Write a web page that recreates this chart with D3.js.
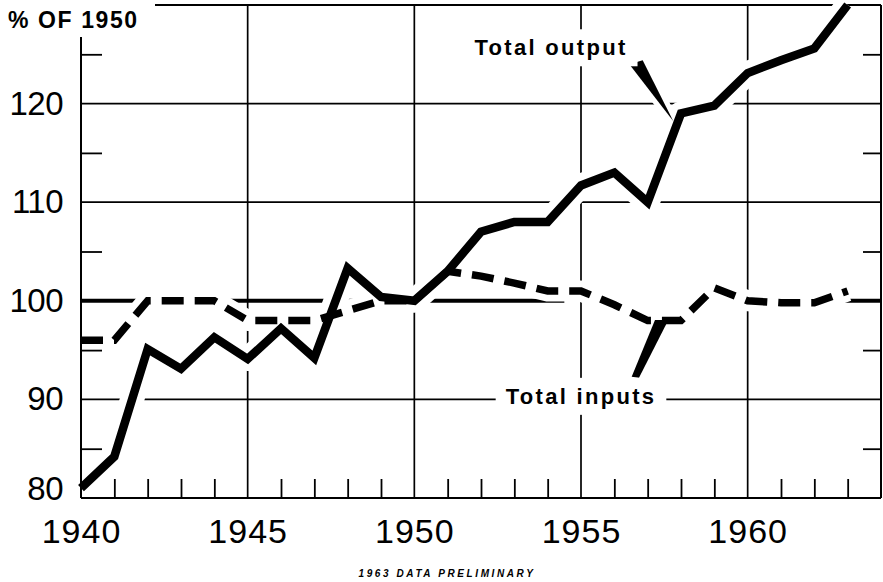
<!DOCTYPE html>
<html>
<head>
<meta charset="utf-8">
<script src="https://cdn.jsdelivr.net/npm/d3@7"></script>
<style>
  body { margin: 0; background: #fff; }
  svg { display: block; font-family: "Liberation Sans", Arial, sans-serif; }
</style>
</head>
<body>
<div id="chart"></div>
<script>
// data, % of 1950
const years = [1940, 1941, 1942, 1943, 1944, 1945, 1946, 1947, 1948, 1949, 1950, 1951,
               1952, 1953, 1954, 1955, 1956, 1957, 1958, 1959, 1960, 1961, 1962, 1963];
const totalOutput = [81, 84.2, 95.1, 93.1, 96.3, 94.1, 97.2, 94.2, 103.3, 100.4, 100, 103,
                     107, 108, 108, 111.7, 113, 110, 119, 119.8, 123.1, 124.4, 125.6, 130];
const totalInputs = [96, 96, 100, 100, 100, 98, 98, 98, 99, 100, 100, 103,
                     102.5, 101.8, 101, 101, 99.6, 98, 98, 101.3, 100, 99.8, 99.8, 101];

const yearLabels = [1940, 1945, 1950, 1955, 1960];
const gridYears = [1945, 1950, 1955, 1960];
const valueLabels = [80, 90, 100, 110, 120];
const gridValues = [90, 110, 120];
const minorValues = [85, 95, 105, 115, 125];
const minorYears = [1941, 1942, 1943, 1944, 1946, 1947, 1948, 1949, 1951, 1952, 1953, 1954,
                    1956, 1957, 1958, 1959, 1961, 1962, 1963];
// the 100 line shows only on these stretches
const baseLineSpans = [[1940, 1954.5], [1962.8, 1964]];

// annotations (data space)
const outputPointer = [[1956.45, 124.0], [1956.85, 124.4], [1957.77, 118.2]];
const inputsPointer = [[1957.22, 98.05], [1957.62, 98.05], [1956.74, 92.2], [1956.52, 92.3]];
const outputLabel = { text: 'Total output', year: 1954.1, value: 124.9 };
const inputsLabel = { text: 'Total inputs', year: 1955, value: 89.55 };

const W = 883, H = 582;
const x = d3.scaleLinear().domain([1940, 1964]).range([81, 881]);
const y = d3.scaleLinear().domain([80, 130]).range([498, 5]);

const svg = d3.select('#chart').append('svg')
  .attr('width', W).attr('height', H);

svg.append('rect').attr('width', W).attr('height', H).attr('fill', '#fff');

// grid
const grid = svg.append('g').attr('stroke', '#000').attr('stroke-width', 1.7);
grid.selectAll('.vg').data(gridYears).enter().append('line')
  .attr('x1', d => x(d)).attr('x2', d => x(d))
  .attr('y1', y(130)).attr('y2', y(80));
grid.selectAll('.hg').data(gridValues).enter().append('line')
  .attr('x1', x(1940)).attr('x2', x(1964))
  .attr('y1', d => y(d)).attr('y2', d => y(d));
grid.selectAll('.base').data(baseLineSpans).enter().append('line')
  .attr('stroke-width', 4)
  .attr('x1', d => x(d[0])).attr('x2', d => x(d[1]))
  .attr('y1', y(100)).attr('y2', y(100));
// top border, left open for the unit label
grid.append('line').attr('stroke-width', 2)
  .attr('x1', 155).attr('x2', x(1964)).attr('y1', y(130)).attr('y2', y(130));

// white halos that break the grid where the curves cross it
const line = d3.line().x((d, i) => x(years[i])).y(d => y(d));
const poly = d3.line().x(d => x(d[0])).y(d => y(d[1])).curve(d3.curveLinearClosed);

const halos = svg.append('g').attr('fill', 'none').attr('stroke', '#fff')
  .attr('stroke-linejoin', 'round');
halos.append('path').attr('d', line(totalInputs)).attr('stroke-width', 21);
halos.append('path').attr('d', line(totalOutput)).attr('stroke-width', 24);
halos.append('path').attr('d', poly(outputPointer)).attr('stroke-width', 10).attr('fill', '#fff');
halos.append('path').attr('d', poly(inputsPointer)).attr('stroke-width', 10).attr('fill', '#fff');

// frame
const frame = svg.append('g').attr('stroke', '#000').attr('stroke-width', 2);
frame.append('line').attr('x1', x(1940)).attr('x2', x(1940)).attr('y1', 37).attr('y2', y(80));
frame.append('line').attr('x1', x(1940)).attr('x2', x(1964)).attr('y1', y(80)).attr('y2', y(80));
frame.append('line').attr('x1', x(1964)).attr('x2', x(1964)).attr('y1', y(130)).attr('y2', y(80));

// minor ticks
function styleTicks(g) {
  g.select('.domain').remove();
  g.selectAll('.tick line').attr('stroke', '#000').attr('stroke-width', 1.8);
}
svg.append('g').attr('transform', `translate(0,${y(80)})`)
  .call(d3.axisBottom(x).tickValues(minorYears).tickSize(-19).tickFormat(''))
  .call(styleTicks);
svg.append('g').attr('transform', `translate(${x(1940)},0)`)
  .call(d3.axisLeft(y).tickValues(minorValues).tickSize(-21).tickFormat(''))
  .call(styleTicks);
svg.append('g').attr('transform', `translate(${x(1964)},0)`)
  .call(d3.axisRight(y).tickValues(minorValues).tickSize(-18).tickFormat(''))
  .call(styleTicks);

// tick labels
const xAxis = svg.append('g').attr('transform', `translate(0,${y(80)})`)
  .call(d3.axisBottom(x).tickValues(yearLabels).tickSize(0).tickPadding(21).tickFormat(d3.format('d')));
xAxis.select('.domain').remove();
xAxis.selectAll('text').attr('fill', '#000').style('font-size', '34px')
  .style('font-family', '"Liberation Sans", Arial, sans-serif').attr('letter-spacing', 1);

const yAxis = svg.append('g').attr('transform', `translate(${x(1940)},0)`)
  .call(d3.axisLeft(y).tickValues(valueLabels).tickSize(0).tickPadding(18));
yAxis.select('.domain').remove();
yAxis.selectAll('text').attr('fill', '#000').style('font-size', '33px')
  .style('font-family', '"Liberation Sans", Arial, sans-serif')
  .attr('letter-spacing', -0.5)
  .attr('y', d => d === 80 ? -9 : 0);

// series
svg.append('path').attr('d', line(totalInputs))
  .attr('fill', 'none').attr('stroke', '#000').attr('stroke-width', 7.5)
  .attr('stroke-dasharray', '22,11');
svg.append('path').attr('d', line(totalOutput))
  .attr('fill', 'none').attr('stroke', '#000').attr('stroke-width', 8.5)
  .attr('stroke-linejoin', 'miter').attr('stroke-miterlimit', 3);

// pointers
svg.append('path').attr('d', poly(outputPointer)).attr('fill', '#000');
svg.append('path').attr('d', poly(inputsPointer)).attr('fill', '#000');

// labels with white boxes that cut the grid
[outputLabel, inputsLabel].forEach(function(l) {
  const g = svg.append('g');
  const box = g.append('rect').attr('fill', '#fff');
  const t = g.append('text')
    .attr('x', x(l.year)).attr('y', y(l.value))
    .attr('text-anchor', 'middle')
    .attr('font-size', 22).attr('font-weight', 'bold')
    .attr('letter-spacing', 2.3)
    .text(l.text);
  const bb = t.node().getBBox();
  box.attr('x', bb.x - 10).attr('y', bb.y - 6)
    .attr('width', bb.width + 20).attr('height', bb.height + 12);
});

svg.append('text')
  .attr('x', 8).attr('y', 28)
  .attr('font-size', 23).attr('font-weight', 'bold').attr('letter-spacing', 1.6)
  .text('% OF 1950');

svg.append('text')
  .attr('x', 447).attr('y', 577)
  .attr('text-anchor', 'middle')
  .attr('font-size', 10).attr('font-weight', 'bold').attr('font-style', 'italic')
  .attr('letter-spacing', 2.6)
  .text('1963 DATA PRELIMINARY');
</script>
</body>
</html>
